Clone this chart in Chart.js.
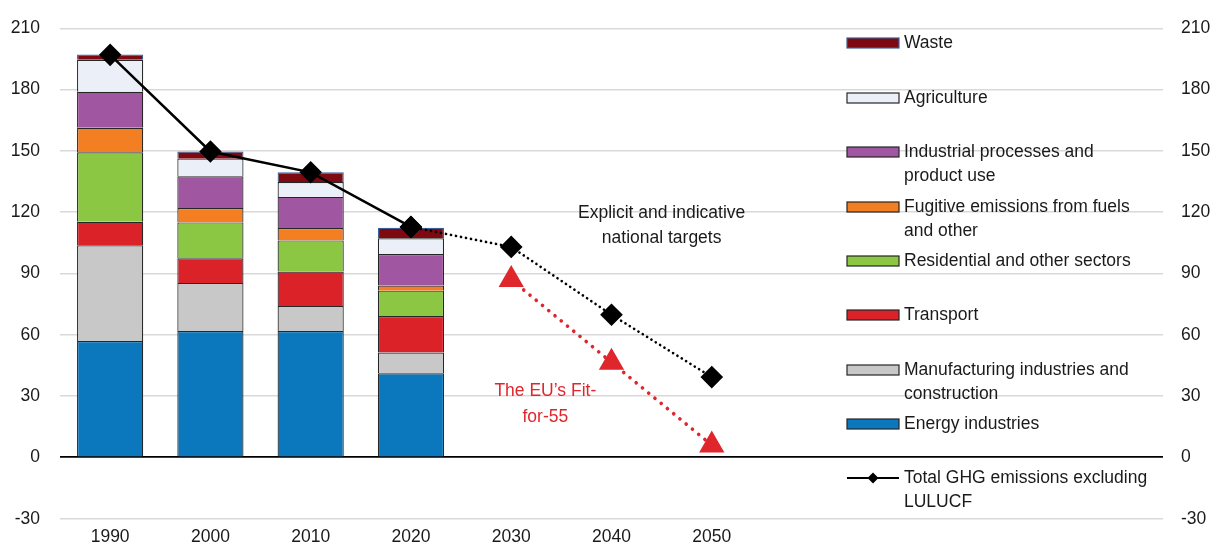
<!DOCTYPE html>
<html>
<head>
<meta charset="utf-8">
<script src="https://cdn.jsdelivr.net/npm/chart.js@4.4.0/dist/chart.umd.min.js"></script>
<style>
  html, body { margin: 0; padding: 0; background: #fff; }
  #wrap { width: 1213px; height: 544px; position: relative; }
</style>
</head>
<body>
<div id="wrap"><canvas id="ghg-chart"></canvas></div>
<script>
// categories (the last slots are empty, the legend sits there)
const years = ['1990', '2000', '2010', '2020', '2030', '2040', '2050', '', '', '', ''];

// stacked sectors, Mt CO2 eq
const energy        = [57.0, 61.8, 61.8, 41.2];
const manufacturing = [46.8, 23.6, 12.3, 10.1];
const transport     = [11.5, 12.1, 16.9, 17.9];
const residential   = [34.0, 17.5, 15.2, 12.4];
const fugitive      = [12.0,  7.0,  6.1,  2.5];
const industrial    = [17.6, 15.6, 15.2, 15.4];
const agriculture   = [15.7,  8.6,  7.3,  7.7];
const waste         = [ 2.6,  3.5,  4.7,  5.2];

// totals and targets
const totalGhg       = [197.0, 149.7, 139.5, 112.8];
const nationalTarget = [null, null, null, 112.8, 103.0, 69.8, 39.3];
const fitFor55       = [null, null, null, null, 87.0, 46.5, 6.0];

const yTicks = { min: -30, max: 210, step: 30 };

const FONT = '"Liberation Sans", Arial, sans-serif';
Chart.defaults.font.family = FONT;
Chart.defaults.font.size = 17.5;
Chart.defaults.color = '#1a1a1a';

function bar(label, data, color, border) {
  return {
    type: 'bar', label, data,
    backgroundColor: color,
    borderColor: border || '#262626',
    borderWidth: 1.2,
    stack: 'sectors',
    order: 2,
    barPercentage: 0.66,
    categoryPercentage: 1.0
  };
}

const sectorSets = [
  bar('Energy industries', energy, '#0b78be'),
  bar('Manufacturing industries and\nconstruction', manufacturing, '#c8c8c8'),
  bar('Transport', transport, '#dc2229'),
  bar('Residential and other sectors', residential, '#8cc743'),
  bar('Fugitive emissions from fuels\nand other', fugitive, '#f47e22'),
  bar('Industrial processes and\nproduct use', industrial, '#a156a1'),
  bar('Agriculture', agriculture, '#ebeff7'),
  bar('Waste', waste, '#7d0a10', '#3f5f98')
];

// legend rows: dataset index (or 'line'), y of first text line
const legendRows = [
  [7, 43], [6, 98], [5, 152], [4, 207], [3, 261],
  [2, 315], [1, 370], [0, 424], ['line', 478]
];

const legendPlugin = {
  id: 'sideLegend',
  afterDraw(chart) {
    const ctx = chart.ctx;
    ctx.save();
    ctx.font = '17.5px ' + FONT;
    ctx.textBaseline = 'middle';
    ctx.fillStyle = '#1a1a1a';
    const x0 = 847, w = 52, tx = 904;
    legendRows.forEach(([idx, y]) => {
      let label;
      if (idx === 'line') {
        label = 'Total GHG emissions excluding\nLULUCF';
        ctx.strokeStyle = '#000';
        ctx.lineWidth = 2.2;
        ctx.beginPath();
        ctx.moveTo(x0, y); ctx.lineTo(x0 + w, y);
        ctx.stroke();
        ctx.fillStyle = '#000';
        ctx.beginPath();
        const cx = x0 + w / 2, r = 5.5;
        ctx.moveTo(cx, y - r); ctx.lineTo(cx + r, y); ctx.lineTo(cx, y + r); ctx.lineTo(cx - r, y);
        ctx.closePath();
        ctx.fill();
      } else {
        const ds = chart.data.datasets[idx];
        label = ds.label;
        ctx.fillStyle = ds.backgroundColor;
        ctx.fillRect(x0, y - 5, w, 10);
        ctx.strokeStyle = ds.borderColor;
        ctx.lineWidth = 1.2;
        ctx.strokeRect(x0, y - 5, w, 10);
      }
      ctx.fillStyle = '#1a1a1a';
      label.split('\n').forEach((line, i) => ctx.fillText(line, tx, y + i * 24));
    });
    ctx.restore();
  }
};

// text notes placed in data units
const notes = [
  { lines: ['Explicit and indicative', 'national targets'], x: 5.5, y: [119.4, 107.4], color: '#1a1a1a' },
  { lines: ['The EU\u2019s Fit-', 'for-55'], x: 4.34, y: [32.5, 19.7], color: '#e0262d' }
];

const notesPlugin = {
  id: 'notes',
  afterDatasetsDraw(chart) {
    const { ctx, scales: { x, y } } = chart;
    ctx.save();
    ctx.font = '17.5px ' + FONT;
    ctx.textAlign = 'center';
    ctx.textBaseline = 'middle';
    notes.forEach(n => {
      ctx.fillStyle = n.color;
      n.lines.forEach((line, i) => ctx.fillText(line, x.getPixelForValue(n.x), y.getPixelForValue(n.y[i])));
    });
    ctx.restore();
  }
};

function fitVertical(width) {
  return s => { s.width = width; s.paddingTop = 0; s.paddingBottom = 0; };
}

new Chart(document.getElementById('ghg-chart').getContext('2d'), {
  data: {
    labels: years,
    datasets: [
      ...sectorSets,
      {
        type: 'line', label: 'Total', data: totalGhg, stack: 'total', order: 0,
        borderColor: '#000', backgroundColor: '#000', borderWidth: 2.5,
        pointStyle: 'rectRot', pointRadius: 9.5, pointHoverRadius: 9.5
      },
      {
        type: 'line', label: 'National targets', data: nationalTarget, stack: 'national', order: 0,
        borderColor: '#000', backgroundColor: '#000', borderWidth: 2.6,
        borderDash: [0.1, 5], borderCapStyle: 'round',
        pointStyle: 'rectRot', pointRadius: 9.5, pointHoverRadius: 9.5
      },
      {
        type: 'line', label: 'Fit-for-55', data: fitFor55, stack: 'eu', order: 1,
        borderColor: '#e0262d', backgroundColor: '#e0262d', borderWidth: 3.6,
        borderDash: [0.1, 8], borderCapStyle: 'round',
        pointStyle: 'triangle', pointRadius: 11, pointHoverRadius: 11
      }
    ]
  },
  options: {
    responsive: true,
    maintainAspectRatio: false,
    animation: false,
    events: [],
    layout: { padding: { top: 28.3, left: 0, right: 0, bottom: 0 } },
    plugins: { legend: { display: false }, tooltip: { enabled: false } },
    scales: {
      x: {
        stacked: true,
        offset: true,
        grid: { display: false, drawTicks: false },
        border: { display: false },
        ticks: { padding: 8, maxRotation: 0, autoSkip: false },
        afterFit(s) { s.height = 25.3; s.paddingLeft = 0; s.paddingRight = 0; }
      },
      y: {
        position: 'left',
        stacked: true,
        min: yTicks.min, max: yTicks.max,
        ticks: { stepSize: yTicks.step, padding: 20 },
        grid: {
          drawTicks: false,
          color: c => c.tick && c.tick.value === 0 ? '#000' : '#d9d9d9',
          lineWidth: c => c.tick && c.tick.value === 0 ? 1.8 : 1.5
        },
        border: { display: false },
        afterFit: fitVertical(60)
      },
      y2: {
        position: 'right',
        min: yTicks.min, max: yTicks.max,
        ticks: { stepSize: yTicks.step, padding: 18 },
        grid: { display: false, drawTicks: false },
        border: { display: false },
        afterFit: fitVertical(50)
      }
    }
  },
  plugins: [legendPlugin, notesPlugin]
});
</script>
</body>
</html>
